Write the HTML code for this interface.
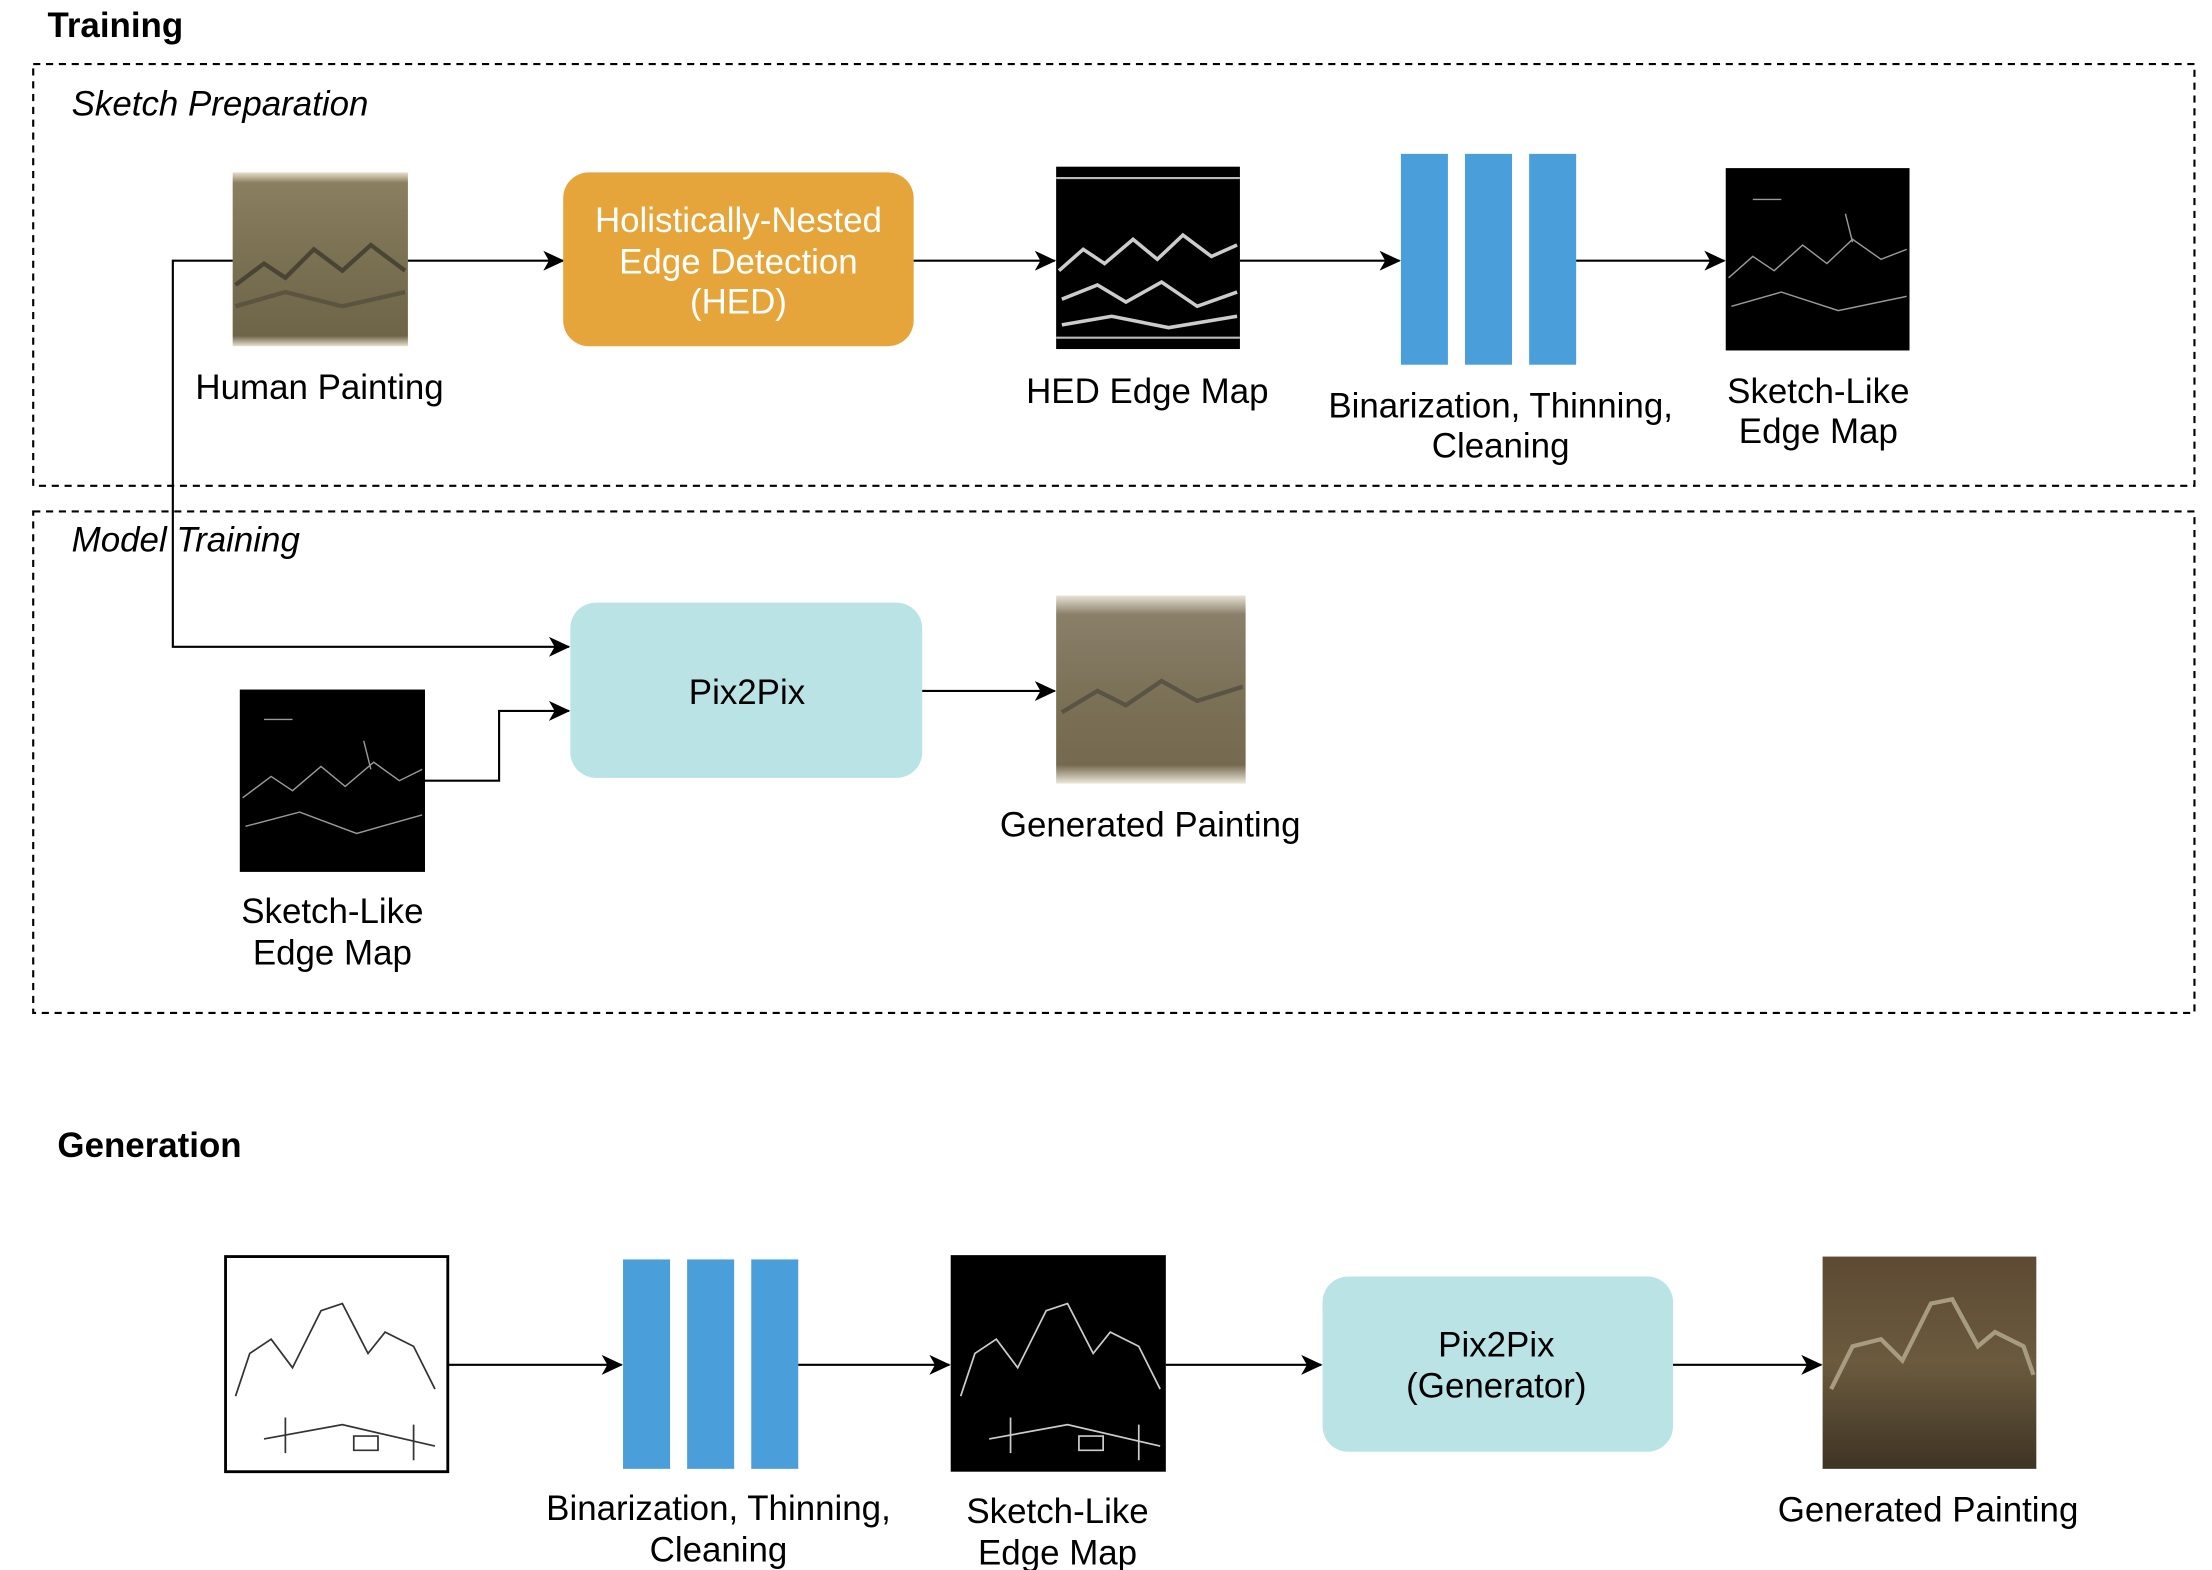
<!DOCTYPE html>
<html><head><meta charset="utf-8"><style>
html,body{margin:0;padding:0;background:#fff;}
svg{display:block;}
text{font-family:"Liberation Sans",Arial,sans-serif;fill:#000;}
</style></head><body>
<svg width="2212" height="1570" viewBox="0 0 1552 1102" xmlns="http://www.w3.org/2000/svg">
<defs>
<marker id="a" markerWidth="16" markerHeight="14" refX="14" refY="7" orient="auto" markerUnits="userSpaceOnUse">
<path d="M0,0 L15,7 L0,14 L4,7 z" fill="#000"/></marker>
<linearGradient id="hp" x1="0" y1="0" x2="0" y2="1">
<stop offset="0" stop-color="#e8e0cc"/><stop offset="0.06" stop-color="#8a7f60"/><stop offset="0.5" stop-color="#7a7052"/><stop offset="0.94" stop-color="#6e6448"/><stop offset="1" stop-color="#e8e0cc"/></linearGradient>
<linearGradient id="gp" x1="0" y1="0" x2="0" y2="1">
<stop offset="0" stop-color="#e8e3d6"/><stop offset="0.1" stop-color="#8a806a"/><stop offset="0.5" stop-color="#7c7258"/><stop offset="0.9" stop-color="#75694f"/><stop offset="1" stop-color="#ece7da"/></linearGradient>
<linearGradient id="gg" x1="0" y1="0" x2="0" y2="1">
<stop offset="0" stop-color="#5e4a34"/><stop offset="0.5" stop-color="#6b5a3e"/><stop offset="1" stop-color="#3e3424"/></linearGradient>
</defs>
<g font-size="24.5">
<text x="33" y="26" font-weight="bold">Training</text>
<rect x="23" y="45" width="1517" height="296" fill="none" stroke="#000" stroke-width="1.5" stroke-dasharray="5,4"/>
<text x="50" y="81" font-style="italic">Sketch Preparation</text>

<rect x="163" y="121" width="123" height="122" fill="url(#hp)"/>
<path d="M165,200 L185,185 L200,195 L220,175 L240,190 L260,172 L284,190" fill="none" stroke="#4a4434" stroke-width="3"/>
<path d="M165,215 L200,205 L240,215 L284,205" fill="none" stroke="#5a5440" stroke-width="3"/>
<text x="224" y="280" text-anchor="middle">Human Painting</text>
<line x1="286" y1="183" x2="395" y2="183" stroke="#000" stroke-width="1.5" marker-end="url(#a)"/>

<rect x="395" y="121" width="246" height="122" rx="18" fill="#E6A53A"/>
<text x="518" y="163" text-anchor="middle" style="fill:#fff">Holistically-Nested</text>
<text x="518" y="192" text-anchor="middle" style="fill:#fff">Edge Detection</text>
<text x="518" y="220" text-anchor="middle" style="fill:#fff">(HED)</text>
<line x1="641" y1="183" x2="740" y2="183" stroke="#000" stroke-width="1.5" marker-end="url(#a)"/>

<rect x="741" y="117" width="129" height="128" fill="#000"/>
<path d="M743,190 L760,175 L775,185 L795,168 L812,182 L830,165 L850,180 L868,172 M745,210 L770,200 L790,212 L815,198 L840,215 L868,205 M745,228 L780,222 L820,230 L868,222" fill="none" stroke="#ccc" stroke-width="2.5"/>
<line x1="741" y1="125" x2="870" y2="125" stroke="#bbb" stroke-width="1.5"/>
<line x1="741" y1="237" x2="870" y2="237" stroke="#bbb" stroke-width="1.5"/>
<text x="805" y="283" text-anchor="middle">HED Edge Map</text>
<line x1="870" y1="183" x2="982" y2="183" stroke="#000" stroke-width="1.5" marker-end="url(#a)"/>

<rect x="983" y="108" width="33" height="148" fill="#4A9FDB"/>
<rect x="1028" y="108" width="33" height="148" fill="#4A9FDB"/>
<rect x="1073" y="108" width="33" height="148" fill="#4A9FDB"/>
<text x="1053" y="293" text-anchor="middle">Binarization, Thinning,</text>
<text x="1053" y="321" text-anchor="middle">Cleaning</text>
<line x1="1106" y1="183" x2="1210" y2="183" stroke="#000" stroke-width="1.5" marker-end="url(#a)"/>

<rect x="1211" y="118" width="129" height="128" fill="#000"/>
<path d="M1213,195 L1230,180 L1245,190 L1265,172 L1282,185 L1300,168 L1320,182 L1338,175 M1215,215 L1250,205 L1290,218 L1338,208 M1295,150 L1300,170 M1230,140 L1250,140" fill="none" stroke="#999" stroke-width="1"/>
<text x="1276" y="283" text-anchor="middle">Sketch-Like</text>
<text x="1276" y="311" text-anchor="middle">Edge Map</text>

<rect x="23" y="359" width="1517" height="352" fill="none" stroke="#000" stroke-width="1.5" stroke-dasharray="5,4"/>
<text x="50" y="387" font-style="italic">Model Training</text>

<polyline points="163,183 121,183 121,454 399,454" fill="none" stroke="#000" stroke-width="1.5" marker-end="url(#a)"/>

<rect x="400" y="423" width="247" height="123" rx="18" fill="#B9E3E5"/>
<text x="524" y="494" text-anchor="middle">Pix2Pix</text>
<line x1="647" y1="485" x2="740" y2="485" stroke="#000" stroke-width="1.5" marker-end="url(#a)"/>

<rect x="168" y="484" width="130" height="128" fill="#000"/>
<path d="M170,560 L190,545 L205,555 L225,538 L242,552 L262,535 L280,548 L296,540 M172,580 L210,570 L250,585 L296,572 M255,520 L260,540 M185,505 L205,505" fill="none" stroke="#999" stroke-width="1"/>
<text x="233" y="648" text-anchor="middle">Sketch-Like</text>
<text x="233" y="677" text-anchor="middle">Edge Map</text>
<polyline points="298,548 350,548 350,499 399,499" fill="none" stroke="#000" stroke-width="1.5" marker-end="url(#a)"/>

<rect x="741" y="418" width="133" height="132" fill="url(#gp)"/>
<path d="M745,500 L770,485 L790,495 L815,478 L840,492 L872,482" fill="none" stroke="#5a5444" stroke-width="3"/>
<text x="807" y="587" text-anchor="middle">Generated Painting</text>

<text x="40" y="812" font-weight="bold">Generation</text>

<rect x="158" y="882" width="156" height="151" fill="#fff" stroke="#000" stroke-width="2"/>
<path d="M165,980 L175,950 L190,940 L205,960 L225,920 L240,915 L258,950 L270,935 L290,945 L305,975 M185,1010 L240,1000 L305,1015 M200,995 L200,1020 M290,1000 L290,1025 M248,1008 L265,1008 L265,1018 L248,1018 z" fill="none" stroke="#333" stroke-width="1.2"/>
<line x1="314" y1="958" x2="436" y2="958" stroke="#000" stroke-width="1.5" marker-end="url(#a)"/>

<rect x="437" y="884" width="33" height="147" fill="#4A9FDB"/>
<rect x="482" y="884" width="33" height="147" fill="#4A9FDB"/>
<rect x="527" y="884" width="33" height="147" fill="#4A9FDB"/>
<text x="504" y="1067" text-anchor="middle">Binarization, Thinning,</text>
<text x="504" y="1096" text-anchor="middle">Cleaning</text>
<line x1="560" y1="958" x2="666" y2="958" stroke="#000" stroke-width="1.5" marker-end="url(#a)"/>

<rect x="667" y="881" width="151" height="152" fill="#000"/>
<path d="M674,980 L684,950 L699,940 L714,960 L734,920 L749,915 L767,950 L779,935 L799,945 L814,975 M694,1010 L749,1000 L814,1015 M709,995 L709,1020 M799,1000 L799,1025 M757,1008 L774,1008 L774,1018 L757,1018 z" fill="none" stroke="#ccc" stroke-width="1.2"/>
<text x="742" y="1069" text-anchor="middle">Sketch-Like</text>
<text x="742" y="1098" text-anchor="middle">Edge Map</text>
<line x1="818" y1="958" x2="927" y2="958" stroke="#000" stroke-width="1.5" marker-end="url(#a)"/>

<rect x="928" y="896" width="246" height="123" rx="18" fill="#B9E3E5"/>
<text x="1050" y="952" text-anchor="middle">Pix2Pix</text>
<text x="1050" y="981" text-anchor="middle">(Generator)</text>
<line x1="1174" y1="958" x2="1278" y2="958" stroke="#000" stroke-width="1.5" marker-end="url(#a)"/>

<rect x="1279" y="882" width="150" height="149" fill="url(#gg)"/>
<path d="M1285,975 L1300,945 L1320,940 L1335,955 L1355,915 L1370,912 L1388,945 L1400,935 L1420,945 L1427,965" fill="none" stroke="#a89c80" stroke-width="3"/>
<text x="1353" y="1068" text-anchor="middle">Generated Painting</text>
</g>
</svg>
</body></html>
